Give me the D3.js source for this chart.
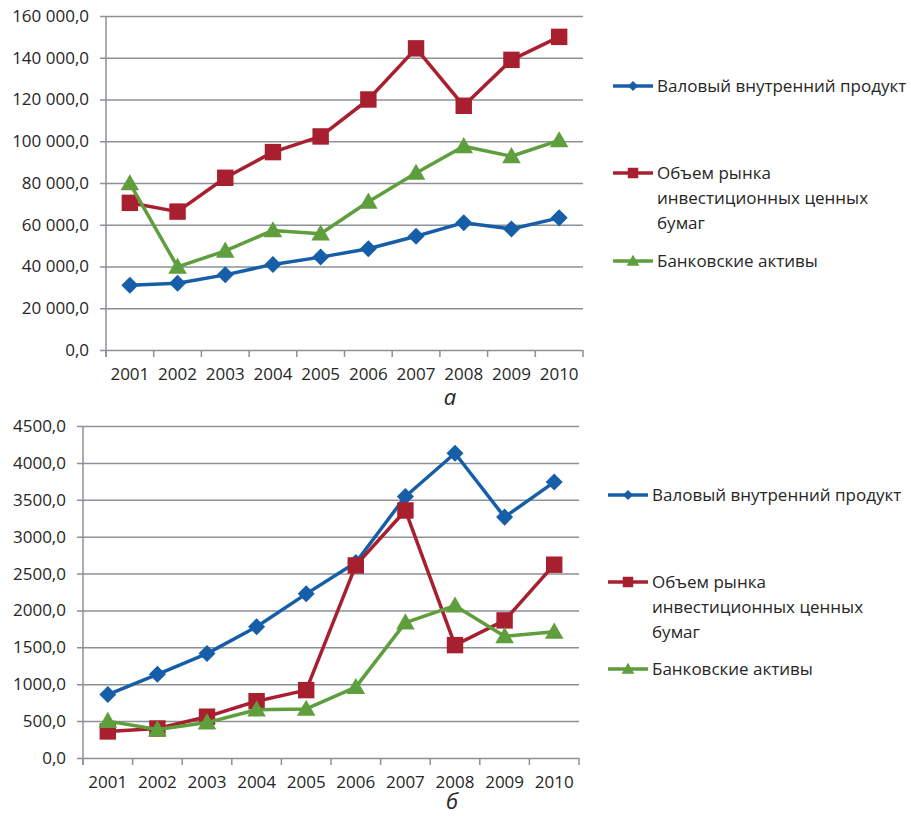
<!DOCTYPE html>
<meta charset="utf-8" />
<head>
  <style>
    body { margin: 0; background: #fff; }
    svg text { font-family: "Open Sans", sans-serif; fill: #262626; }
    .domain { display: none; }
    .grid line { stroke: #8c9196; stroke-width: 1.5; }
  </style>
</head>
<script src="https://d3js.org/d3.v7.min.js"></script>
<body>
<svg width="911" height="816"></svg>
<script>
  // ---- data ----
  const years = ["2001","2002","2003","2004","2005","2006","2007","2008","2009","2010"];
  const seriesNames = ["Валовый внутренний продукт", "Объем рынка инвестиционных ценных бумаг", "Банковские активы"];

  // chart a
  const gdpA  = [31000, 32000, 36000, 41000, 44500, 48500, 54500, 61000, 58000, 63300];
  const secA  = [70500, 66300, 82500, 94800, 102300, 120000, 144500, 117000, 139000, 150000];
  const bankA = [79800, 39800, 47500, 57300, 55700, 71000, 84800, 97600, 92800, 100400];

  // chart b
  const gdpB  = [860, 1135, 1415, 1780, 2225, 2650, 3545, 4130, 3265, 3740];
  const secB  = [360, 400, 560, 770, 920, 2610, 3355, 1530, 1865, 2620];
  const bankB = [500, 385, 480, 655, 665, 960, 1835, 2065, 1650, 1710];

  const ticksA = [0, 20000, 40000, 60000, 80000, 100000, 120000, 140000, 160000];
  const ticksB = [0, 500, 1000, 1500, 2000, 2500, 3000, 3500, 4000, 4500];

  const colors = ["#175ea8", "#a8202f", "#5e9e3c"];
  // diamond = square turned by 45 degrees
  const shapes = [d3.symbolSquare, d3.symbolSquare, d3.symbolTriangle];
  const turn = [45, 0, 0];

  const ru = d3.formatLocale({ decimal: ",", thousands: "\u00a0", grouping: [3], currency: ["", ""] });

  const svg = d3.select("svg");

  function drawChart(cfg) {
    const g = svg.append("g");
    const x = d3.scaleBand().domain(years).range([cfg.left, cfg.right]);
    const y = d3.scaleLinear().domain([0, d3.max(cfg.ticks)]).range([cfg.bottom, cfg.top]);

    // gridlines + y labels
    g.append("g")
      .attr("class", "grid")
      .attr("transform", `translate(${cfg.left},0)`)
      .call(d3.axisLeft(y).tickValues(cfg.ticks).tickSize(-(cfg.right - cfg.left)).tickPadding(17).tickFormat(cfg.fmt))
      .call(ax => ax.selectAll(".tick line").attr("x1", -6))
      .call(ax => ax.selectAll(".tick text").attr("font-size", 17));

    // y axis line
    g.append("line")
      .attr("x1", cfg.left).attr("x2", cfg.left)
      .attr("y1", cfg.top).attr("y2", cfg.bottom + 7)
      .attr("stroke", "#8c9196").attr("stroke-width", 1.5);

    // x ticks at band edges
    g.selectAll(".xt").data(d3.range(years.length + 1)).join("line")
      .attr("x1", i => cfg.left + i * x.bandwidth()).attr("x2", i => cfg.left + i * x.bandwidth())
      .attr("y1", cfg.bottom).attr("y2", cfg.bottom + 7)
      .attr("stroke", "#8c9196").attr("stroke-width", 1.5);

    // x labels
    g.append("g")
      .attr("transform", `translate(0,${cfg.bottom})`)
      .call(d3.axisBottom(x).tickSize(0).tickPadding(18))
      .call(ax => ax.selectAll(".tick text").attr("font-size", 17));

    const line = d3.line().x((d, i) => x(years[i]) + x.bandwidth() / 2).y(d => y(d));

    cfg.series.forEach((vals, k) => {
      g.append("path")
        .attr("d", line(vals))
        .attr("fill", "none")
        .attr("stroke", colors[k])
        .attr("stroke-width", 3.5)
        .attr("stroke-linejoin", "round");
      g.selectAll(".m" + k).data(vals).join("path")
        .attr("transform", (d, i) => `translate(${x(years[i]) + x.bandwidth() / 2},${y(d) + (k === 2 ? 1.5 : 0)}) rotate(${turn[k]})`)
        .attr("d", d3.symbol().type(shapes[k]).size([145, 270, 150][k]))
        .attr("fill", colors[k]);
    });

    // legend
    const lg = g.append("g").attr("transform", `translate(${cfg.legX},0)`);
    const lines = [[seriesNames[0]], ["Объем рынка", "инвестиционных ценных", "бумаг"], [seriesNames[2]]];
    cfg.legY.forEach((ly, k) => {
      lg.append("line").attr("x1", 0).attr("x2", 40).attr("y1", ly).attr("y2", ly)
        .attr("stroke", colors[k]).attr("stroke-width", 3.5);
      lg.append("path").attr("transform", `translate(20,${ly + (k === 2 ? 1 : 0)}) rotate(${turn[k]})`)
        .attr("d", d3.symbol().type(shapes[k]).size([50, 110, 70][k]))
        .attr("fill", colors[k]);
      lines[k].forEach((t, j) => {
        lg.append("text").attr("x", 44).attr("y", ly + j * 25).attr("dy", "0.35em")
          .attr("font-size", 17).text(t);
      });
    });

    // caption letter
    svg.append("text")
      .attr("x", cfg.capX).attr("y", cfg.capY)
      .attr("text-anchor", "middle")
      .attr("font-family", "'Liberation Serif', serif")
      .attr("font-style", "italic")
      .attr("font-size", 22)
      .text(cfg.cap);
  }

  drawChart({
    left: 106, right: 583, top: 16, bottom: 350,
    ticks: ticksA, fmt: ru.format(",.1f"),
    series: [gdpA, secA, bankA],
    legX: 613, legY: [86, 173, 261],
    cap: "а", capX: 450, capY: 405
  });

  drawChart({
    left: 83, right: 579, top: 426, bottom: 758,
    ticks: ticksB, fmt: ru.format(".1f"),
    series: [gdpB, secB, bankB],
    legX: 608, legY: [495, 582, 669],
    cap: "б", capX: 452, capY: 809
  });
</script>
</body>
